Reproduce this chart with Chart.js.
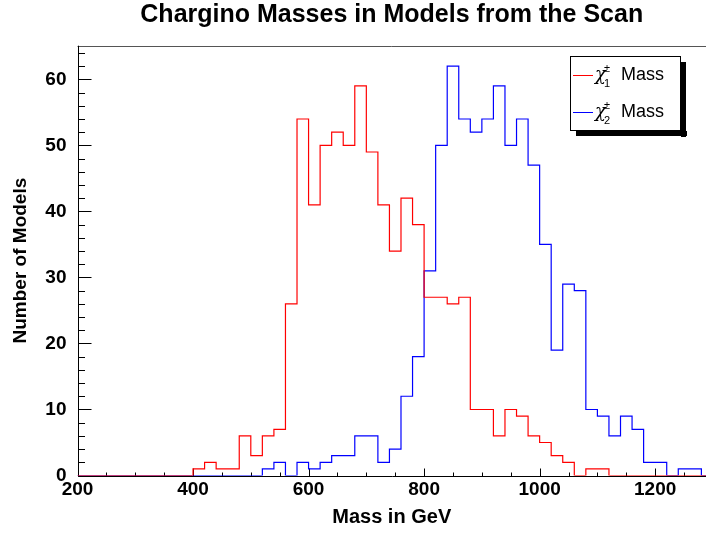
<!DOCTYPE html>
<html>
<head>
<meta charset="utf-8">
<script src="https://cdn.jsdelivr.net/npm/chart.js@4.4.1/dist/chart.umd.min.js"></script>
<style>
  html, body { margin: 0; padding: 0; background: #fff; }
  canvas { display: block; }
</style>
</head>
<body>
<canvas id="grafico" width="706" height="533"></canvas>
<script>
// ==================== DADOS ====================
// borda inferior de cada bin (20 GeV)
const binLowEdges = [
  200, 220, 240, 260, 280, 300, 320, 340, 360, 380,
  400, 420, 440, 460, 480, 500, 520, 540, 560, 580,
  600, 620, 640, 660, 680, 700, 720, 740, 760, 780,
  800, 820, 840, 860, 880, 900, 920, 940, 960, 980,
  1000, 1020, 1040, 1060, 1080, 1100, 1120, 1140, 1160, 1180,
  1200, 1220, 1240, 1260, 1280, 1300
];

const chi1Counts = [
  0, 0, 0, 0, 0, 0, 0, 0, 0, 0,
  1, 2, 1, 1, 6, 3, 6, 7, 26, 54,
  41, 50, 52, 50, 59, 49, 41, 34, 42, 38,
  27, 27, 26, 27, 10, 10, 6, 10, 9, 6,
  5, 3, 2, 0, 1, 1, 0, 0, 0, 0,
  0, 0, 0, 0, 0
];

const chi2Counts = [
  0, 0, 0, 0, 0, 0, 0, 0, 0, 0,
  0, 0, 0, 0, 0, 0, 1, 2, 0, 2,
  1, 2, 3, 3, 6, 6, 2, 4, 12, 18,
  31, 50, 62, 54, 52, 54, 59, 50, 54, 47,
  35, 19, 29, 28, 10, 9, 6, 9, 7, 2,
  2, 0, 1, 1, 0
];

const seriesSubscripts = ["1", "2"];
const seriesColors = ["#ff0000", "#0000ff"];

const xTickValues = [200, 400, 600, 800, 1000, 1200];
const yTickValues = [0, 10, 20, 30, 40, 50, 60];

// ==================== FUNÇÕES ====================
function pontosHistograma(counts) {
  const pts = counts.map((c, i) => ({ x: binLowEdges[i], y: c }));
  // fecha o último bin
  pts.push({ x: binLowEdges[counts.length], y: counts[counts.length - 1] });
  return pts;
}

const px = (v) => Math.round(v) + 0.5;

// eixos, moldura e ticks para dentro (estilo ROOT)
const eixosRoot = {
  id: "eixosRoot",
  beforeDatasetsDraw(chart) {
    const { ctx, chartArea: a, scales } = chart;
    const xs = scales.x, ys = scales.y;
    ctx.save();
    ctx.lineWidth = 1;

    // moldura de cima
    ctx.strokeStyle = "#555";
    ctx.beginPath();
    ctx.moveTo(a.left, px(a.top));
    ctx.lineTo(a.right, px(a.top));
    ctx.stroke();

    ctx.strokeStyle = "#000";
    ctx.beginPath();
    ctx.moveTo(px(a.left), a.top);
    ctx.lineTo(px(a.left), px(a.bottom));
    ctx.lineTo(a.right, px(a.bottom));

    // ticks do eixo y
    for (let v = 0; v <= ys.max; v += 2) {
      const y = px(ys.getPixelForValue(v));
      const len = v % 10 === 0 ? 13 : 6.5;
      ctx.moveTo(px(a.left), y);
      ctx.lineTo(px(a.left) + len, y);
    }
    // ticks do eixo x
    for (let v = xs.min; v <= xs.max; v += 50) {
      const x = px(xs.getPixelForValue(v));
      const len = v % 200 === 0 ? 8 : 4;
      ctx.moveTo(x, px(a.bottom));
      ctx.lineTo(x, px(a.bottom) - len);
    }
    ctx.stroke();
    ctx.restore();
  },
};

// legenda com sombra (estilo TLegend)
const legendaRoot = {
  id: "legendaRoot",
  afterDraw(chart) {
    const ctx = chart.ctx;
    const bx = 570, by = 56, bw = 111, bh = 75;
    ctx.save();
    ctx.fillStyle = "#000";
    ctx.fillRect(bx + 6, by + bh, bw, 5);
    ctx.fillRect(bx + bw, by + 6, 5, bh);
    ctx.fillStyle = "#fff";
    ctx.fillRect(bx, by, bw, bh);
    ctx.strokeStyle = "#000";
    ctx.lineWidth = 1;
    ctx.strokeRect(bx + 0.5, by + 0.5, bw - 1, bh - 1);

    chart.data.datasets.forEach((ds, i) => {
      const yl = 75 + i * 37;
      ctx.strokeStyle = ds.borderColor;
      ctx.beginPath();
      ctx.moveTo(573, yl + 0.5);
      ctx.lineTo(593, yl + 0.5);
      ctx.stroke();

      ctx.fillStyle = "#000";
      ctx.textBaseline = "alphabetic";
      ctx.textAlign = "left";
      ctx.font = "italic 18px 'DejaVu Serif', serif";
      ctx.fillText("χ", 595, yl + 5);
      ctx.font = "11px 'Liberation Sans', Arial, sans-serif";
      ctx.fillText("±", 604, yl - 3);
      ctx.fillText(seriesSubscripts[i], 604, yl + 12);
      ctx.font = "18px 'Liberation Sans', Arial, sans-serif";
      ctx.fillText("Mass", 621, yl + 5);
    });
    ctx.restore();
  },
};

// ==================== GRÁFICO ====================
Chart.defaults.font.family = "'Liberation Sans', Arial, Helvetica, sans-serif";
Chart.defaults.color = "#000";

const fonteNegrito = { size: 19, weight: "bold" };

new Chart(document.getElementById("grafico"), {
  type: "line",
  data: {
    datasets: [
      {
        label: "χ1± Mass",
        data: pontosHistograma(chi1Counts),
        borderColor: seriesColors[0],
      },
      {
        label: "χ2± Mass",
        data: pontosHistograma(chi2Counts),
        borderColor: seriesColors[1],
      },
    ].map((ds) => ({
      ...ds,
      borderWidth: 1.2,
      stepped: "before",
      pointRadius: 0,
      fill: false,
    })),
  },
  options: {
    responsive: false,
    animation: false,
    layout: { padding: { left: 0, right: 0, top: 0, bottom: 0 } },
    plugins: {
      legend: { display: false },
      tooltip: { enabled: false },
      title: {
        display: true,
        text: "Chargino Masses in Models from the Scan",
        fullSize: false,
        color: "#000",
        font: { size: 25, weight: "bold" },
        padding: { top: 0, bottom: 15.7 },
      },
    },
    scales: {
      x: {
        type: "linear",
        min: 200,
        max: 1288,
        afterBuildTicks: (s) => { s.ticks = xTickValues.map((v) => ({ value: v })); },
        afterFit: (s) => { s.height = 57.5; },
        ticks: {
          autoSkip: false,
          maxRotation: 0,
          padding: 3,
          font: fonteNegrito,
          callback: (v) => String(v),
        },
        grid: { display: false, drawTicks: false },
        border: { display: false },
        title: {
          display: true,
          text: "Mass in GeV",
          font: { size: 20, weight: "bold" },
          padding: 4,
        },
      },
      y: {
        min: 0,
        max: 65.1,
        afterBuildTicks: (s) => { s.ticks = yTickValues.map((v) => ({ value: v })); },
        afterFit: (s) => { s.width = 77.5; },
        ticks: {
          autoSkip: false,
          padding: 11,
          font: fonteNegrito,
          callback: (v) => String(v),
        },
        grid: { display: false, drawTicks: false },
        border: { display: false },
        title: {
          display: true,
          text: "Number of Models",
          font: { size: 19, weight: "bold" },
          padding: 9,
        },
      },
    },
  },
  plugins: [eixosRoot, legendaRoot],
});
</script>
</body>
</html>
